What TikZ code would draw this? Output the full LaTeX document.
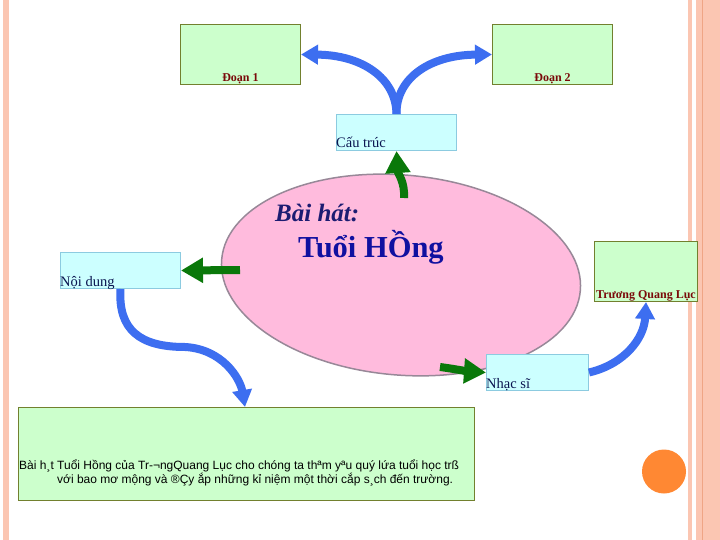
\documentclass[tikz,border=0pt]{standalone}
\usepackage{fontspec}
\setmainfont{Liberation Serif}
\newfontfamily\arialfont{Liberation Sans}
\usetikzlibrary{arrows.meta}
\definecolor{boxgreen}{HTML}{CCFFCC}
\definecolor{greenedge}{HTML}{72802E}
\definecolor{boxcyan}{HTML}{CCFFFF}
\definecolor{cyanedge}{HTML}{8CCBE0}
\definecolor{darkred}{HTML}{7A0A0A}
\definecolor{navytext}{HTML}{0A1450}
\definecolor{titlenavy}{HTML}{1C1C72}
\definecolor{titleblue}{HTML}{1010A0}
\definecolor{pinkfill}{HTML}{FFBBDD}
\definecolor{pinkedge}{HTML}{988898}
\definecolor{arrowblue}{HTML}{3D6EF0}
\definecolor{arrowgreen}{HTML}{0A780A}
\definecolor{stripe}{HTML}{FBC6B2}
\definecolor{stripedark}{HTML}{EFA585}
\definecolor{dotorange}{HTML}{FF8833}
\tikzset{
  greenbox/.style={draw=greenedge, fill=boxgreen, line width=1pt, inner sep=0pt, anchor=north west},
  cyanbox/.style={draw=cyanedge, fill=boxcyan, line width=1pt, inner sep=0pt, anchor=north west},
  redlabel/.style={inner sep=0pt, anchor=base, text=darkred, font=\bfseries\fontsize{12}{14}\selectfont},
  navylabel/.style={inner sep=0pt, anchor=base west, text=navytext, font=\fontsize{14.5}{16}\selectfont},
  bluearrow/.style={draw=arrowblue, line width=8pt, -{Triangle[length=17pt,width=19pt]}},
  greenarrow/.style={draw=arrowgreen, line width=8pt, -{Triangle[length=22pt,width=24pt]}},
  bodytext/.style={inner sep=0pt, anchor=base west, font=\arialfont\fontsize{12}{14}\selectfont}
}
\begin{document}
\begin{tikzpicture}[x=1pt,y=-1pt]
\useasboundingbox (0,0) rectangle (720,540);
\fill[white] (0,0) rectangle (720,540);
% border stripes
\fill[stripe] (3,0) rectangle (9,540);
\fill[stripe] (688,0) rectangle (692,540);
\fill[stripe] (696,0) rectangle (720,540);
\draw[stripedark, line width=0.8pt] (702.5,0) -- (702.5,540);
% orange dot
\fill[dotorange] (664,471.5) circle (22);
% ellipse
\filldraw[draw=pinkedge, fill=pinkfill, line width=1.5pt, rotate around={-5:(401,275)}] (401,275) ellipse [x radius=180, y radius=100];
% boxes
\node[greenbox, minimum width=120pt, minimum height=60pt] (d1) at (180,24) {};
\node[greenbox, minimum width=120pt, minimum height=60pt] (d2) at (492,24) {};
\node[cyanbox, minimum width=120pt, minimum height=36pt] (cs) at (336,114) {};
\node[cyanbox, minimum width=120pt, minimum height=36pt] (nd) at (60,252) {};
\node[greenbox, minimum width=103pt, minimum height=60pt] (tq) at (594,241) {};
\node[cyanbox, minimum width=102pt, minimum height=36pt] (ns) at (486,354) {};
\node[greenbox, minimum width=456pt, minimum height=93pt] (bb) at (18,407) {};
% labels
\node[redlabel] (t1) at ([yshift=3pt]d1.south) {Đoạn 1};
\node[redlabel] (t2) at ([yshift=3pt]d2.south) {Đoạn 2};
\node[redlabel] (t3) at ([yshift=4pt]tq.south) {Trương Quang Lục};
\node[navylabel] (t4) at ([yshift=3pt]cs.south west) {Cấu trúc};
\node[navylabel] (t5) at ([yshift=3pt]nd.south west) {Nội dung};
\node[navylabel] (t6) at ([yshift=3pt]ns.south west) {Nhạc sĩ};
\node[inner sep=0pt, anchor=base west, text=titlenavy, font=\bfseries\itshape\fontsize{25}{30}\selectfont] (bh) at (275,222) {Bài hát:};
\node[inner sep=0pt, anchor=base west, text=titleblue, font=\bfseries\fontsize{30.5}{36}\selectfont] (th) at (298,257) {Tuổi HỒng};
\node[bodytext] (l1) at (19,469) {Bài h¸t Tuổi Hồng của Tr-¬ngQuang Lục cho chóng ta thªm yªu quý lứa tuổi học trß};
\node[bodytext] (l2) at (57,483) {với bao mơ mộng và ®Çy ắp những kỉ niệm một thời cắp s¸ch đến trường.};
% blue arrows
\draw[bluearrow] (cs.north) .. controls (396,78) and (362,55) .. (d1.east);
\draw[bluearrow] (cs.north) .. controls (396,78) and (430,55) .. (d2.west);
\draw[bluearrow] (nd.south) .. controls (118,330) and (140,347) .. (185,347) .. controls (222,349) and (240,378) .. ([xshift=227pt]bb.north west);
\draw[bluearrow] (ns.east) .. controls (625,364) and (644,338) .. (tq.south);
% green arrows
\draw[greenarrow] (404,198) .. controls (405,182) and (398,174) .. (cs.south);
\draw[greenarrow] (240,270) -- (nd.east);
\draw[greenarrow] (440,367) .. controls (455,369) and (465,371) .. (ns.west);
\end{tikzpicture}
\end{document}
